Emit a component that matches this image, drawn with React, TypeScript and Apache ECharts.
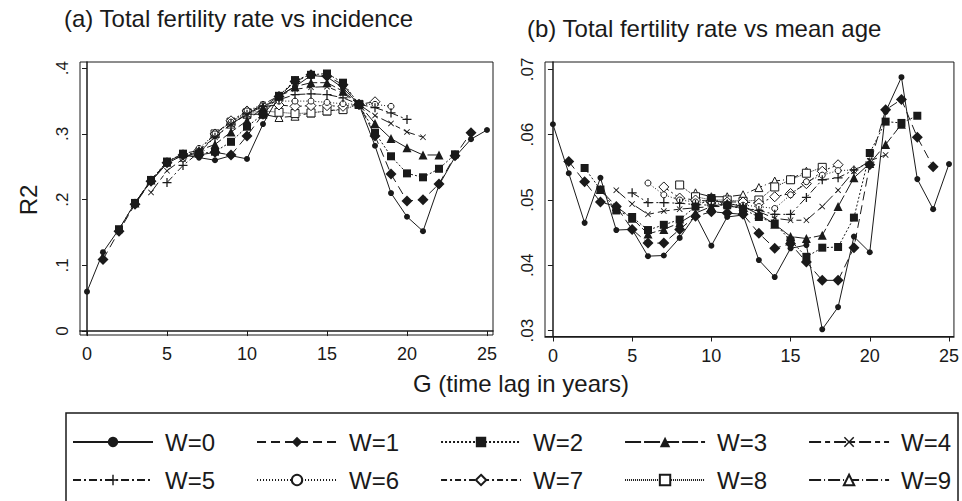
import React, { useEffect, useRef } from 'react';
import * as echarts from 'echarts';

// ---- data ----
const lags = [0, 1, 2, 3, 4, 5, 6, 7, 8, 9, 10, 11, 12, 13, 14, 15, 16, 17, 18, 19, 20, 21, 22, 23, 24, 25];
const windows = [0, 1, 2, 3, 4, 5, 6, 7, 8, 9];
const xTicks = [0, 5, 10, 15, 20, 25];
const incTicks = [0, 0.1, 0.2, 0.3, 0.4];
const ageTicks = [0.03, 0.04, 0.05, 0.06, 0.07];

// (a) Total fertility rate vs incidence; series W starts at lag W
const incW0 = [0.060, 0.120, 0.155, 0.195, 0.228, 0.255, 0.268, 0.264, 0.260, 0.267, 0.262, 0.315, 0.358, 0.372, 0.389, 0.387, 0.370, 0.345, 0.282, 0.210, 0.174, 0.152, 0.222, 0.265, 0.292, 0.306];
const incW1 = [0.109, 0.152, 0.193, 0.228, 0.256, 0.268, 0.268, 0.272, 0.268, 0.297, 0.330, 0.357, 0.380, 0.390, 0.388, 0.375, 0.345, 0.297, 0.239, 0.198, 0.200, 0.224, 0.267, 0.302];
const incW2 = [0.155, 0.195, 0.230, 0.258, 0.270, 0.270, 0.273, 0.288, 0.311, 0.330, 0.358, 0.382, 0.390, 0.392, 0.378, 0.345, 0.302, 0.266, 0.240, 0.234, 0.247, 0.269];
const incW3 = [0.195, 0.230, 0.257, 0.270, 0.275, 0.284, 0.303, 0.320, 0.340, 0.358, 0.372, 0.378, 0.378, 0.365, 0.345, 0.316, 0.293, 0.279, 0.268, 0.268];
const incW4 = [0.211, 0.244, 0.262, 0.275, 0.295, 0.315, 0.330, 0.345, 0.358, 0.368, 0.371, 0.372, 0.362, 0.345, 0.328, 0.316, 0.303, 0.295];
const incW5 = [0.226, 0.252, 0.272, 0.295, 0.315, 0.330, 0.342, 0.352, 0.360, 0.361, 0.360, 0.355, 0.345, 0.340, 0.332, 0.322];
const incW6 = [0.262, 0.278, 0.300, 0.318, 0.335, 0.345, 0.350, 0.350, 0.350, 0.348, 0.346, 0.345, 0.345, 0.342];
const incW7 = [0.275, 0.300, 0.320, 0.335, 0.342, 0.344, 0.342, 0.343, 0.343, 0.342, 0.345, 0.349];
const incW8 = [0.300, 0.318, 0.332, 0.335, 0.333, 0.331, 0.332, 0.335, 0.337, 0.345];
const incW9 = [0.315, 0.330, 0.330, 0.325, 0.327, 0.332, 0.335, 0.338];

// (b) Total fertility rate vs mean age; series W starts at lag W
const ageW0 = [0.0616, 0.0541, 0.0465, 0.0534, 0.0454, 0.0455, 0.0414, 0.0415, 0.0442, 0.0477, 0.0430, 0.0474, 0.0477, 0.0408, 0.0382, 0.0426, 0.0431, 0.0302, 0.0336, 0.0444, 0.0420, 0.0635, 0.0688, 0.0532, 0.0486, 0.0555];
const ageW1 = [0.0559, 0.0528, 0.0497, 0.0490, 0.0455, 0.0434, 0.0434, 0.0455, 0.0475, 0.0482, 0.0480, 0.0478, 0.0449, 0.0426, 0.0433, 0.0405, 0.0377, 0.0377, 0.0427, 0.0554, 0.0638, 0.0654, 0.0596, 0.0551];
const ageW2 = [0.0549, 0.0516, 0.0484, 0.0474, 0.0454, 0.0462, 0.0470, 0.0490, 0.0503, 0.0492, 0.0486, 0.0474, 0.0464, 0.0438, 0.0413, 0.0427, 0.0428, 0.0473, 0.0572, 0.0620, 0.0618, 0.0629];
const ageW3 = [0.0516, 0.0490, 0.0472, 0.0448, 0.0455, 0.0465, 0.0480, 0.0490, 0.0495, 0.0490, 0.0478, 0.0463, 0.0444, 0.0441, 0.0446, 0.0490, 0.0534, 0.0556, 0.0585, 0.0616];
const ageW4 = [0.0515, 0.0494, 0.0478, 0.0483, 0.0486, 0.0488, 0.0490, 0.0490, 0.0489, 0.0482, 0.0472, 0.0469, 0.0469, 0.0490, 0.0515, 0.0544, 0.0560, 0.0569];
const ageW5 = [0.0511, 0.0496, 0.0496, 0.0495, 0.0493, 0.0492, 0.0492, 0.0488, 0.0484, 0.0478, 0.0478, 0.0504, 0.0531, 0.0534, 0.0546, 0.0558];
const ageW6 = [0.0526, 0.0508, 0.0500, 0.0497, 0.0496, 0.0494, 0.0492, 0.0490, 0.0487, 0.0508, 0.0528, 0.0538, 0.0545, 0.0546];
const ageW7 = [0.0520, 0.0503, 0.0500, 0.0498, 0.0497, 0.0497, 0.0495, 0.0505, 0.0510, 0.0525, 0.0544, 0.0554];
const ageW8 = [0.0523, 0.0505, 0.0500, 0.0500, 0.0498, 0.0500, 0.0520, 0.0531, 0.0541, 0.0550];
const ageW9 = [0.0511, 0.0505, 0.0505, 0.0508, 0.0519, 0.0529, 0.0532, 0.0544];

const incSeries = [incW0, incW1, incW2, incW3, incW4, incW5, incW6, incW7, incW8, incW9];
const ageSeries = [ageW0, ageW1, ageW2, ageW3, ageW4, ageW5, ageW6, ageW7, ageW8, ageW9];

// ---- styles ----
const INK = '#1a1a1a';
const FONT = '"Liberation Sans", Arial, Helvetica, sans-serif';
const PLUS = 'path://M4.3,0H5.7V4.3H10V5.7H5.7V10H4.3V5.7H0V4.3H4.3Z';
const CROSS = 'path://M1,0L5,4L9,0L10,1L6,5L10,9L9,10L5,6L1,10L0,9L4,5L0,1Z';

type Sty = { symbol: string; size: number; hollow: boolean; dash: any };
const styles: Sty[] = [
  { symbol: 'circle', size: 6, hollow: false, dash: 'solid' },
  { symbol: 'diamond', size: 11, hollow: false, dash: [9, 5] },
  { symbol: 'rect', size: 8, hollow: false, dash: [2, 2] },
  { symbol: 'triangle', size: 9, hollow: false, dash: [16, 3] },
  { symbol: CROSS, size: 6, hollow: false, dash: [12, 4, 5, 4] },
  { symbol: PLUS, size: 9, hollow: false, dash: [8, 3, 2, 3] },
  { symbol: 'circle', size: 6, hollow: true, dash: [1, 2] },
  { symbol: 'diamond', size: 10, hollow: true, dash: [6, 3, 2, 3] },
  { symbol: 'rect', size: 8, hollow: true, dash: [1, 1] },
  { symbol: 'triangle', size: 8, hollow: true, dash: [12, 3, 1, 3] },
];

function makeSeries(values: number[][], axis: number) {
  return windows.map((w) => {
    const s = styles[w];
    return {
      type: 'line',
      name: `W=${w}`,
      xAxisIndex: axis,
      yAxisIndex: axis,
      data: values[w].map((v, i) => [lags[w + i], v]),
      symbol: s.symbol,
      symbolSize: s.size,
      showAllSymbol: true,
      lineStyle: { color: INK, width: 1, type: s.dash },
      itemStyle: s.hollow
        ? { color: '#ffffff', borderColor: INK, borderWidth: 1 }
        : { color: INK, borderColor: INK, borderWidth: 0 },
      z: 20 - w,
      emphasis: { disabled: true },
    };
  });
}

const axisLabelY = (v: number) => (v === 0 ? '0' : String(+v.toFixed(3)).replace(/^0/, ''));

function xAxisFor(grid: number, min: number, max: number) {
  return {
    type: 'value',
    gridIndex: grid,
    min,
    max,
    axisLine: { show: true, lineStyle: { color: INK, width: 1.5 } },
    axisTick: { show: true, customValues: xTicks, length: 5, lineStyle: { color: INK } },
    axisLabel: { customValues: xTicks, color: INK, fontSize: 18, fontFamily: FONT, margin: 10 },
    splitLine: { show: false },
  };
}

function yAxisFor(grid: number, min: number, max: number, ticks: number[]) {
  return {
    type: 'value',
    gridIndex: grid,
    min,
    max,
    axisLine: { show: true, lineStyle: { color: INK, width: 1.5 } },
    axisTick: { show: true, customValues: ticks, length: 5, lineStyle: { color: INK } },
    axisLabel: {
      customValues: ticks,
      rotate: 90,
      color: INK,
      fontSize: 17,
      fontFamily: FONT,
      margin: 9,
      formatter: axisLabelY,
    },
    splitLine: { show: false },
  };
}

const legendNames1 = windows.slice(0, 5).map((w) => `W=${w}`);
const legendNames2 = windows.slice(5).map((w) => `W=${w}`);

function legendRow(names: string[], top: number) {
  return {
    data: names,
    left: 72,
    top,
    width: 885,
    orient: 'horizontal',
    itemWidth: 80,
    itemHeight: 13,
    itemGap: 41,
    padding: 0,
    selectedMode: false,
    textStyle: { fontSize: 24, fontFamily: FONT, color: INK, padding: [0, 0, 0, 7] },
  };
}

export default function App() {
  const ref = useRef<HTMLDivElement>(null);
  useEffect(() => {
    if (!ref.current) return;
    const chart = echarts.init(ref.current, undefined, { renderer: 'svg' });
    chart.setOption({
      animation: false,
      backgroundColor: '#ffffff',
      title: [
        {
          text: '(a) Total fertility rate vs incidence',
          left: 64,
          top: 6,
          padding: 0,
          textStyle: { fontSize: 24, fontWeight: 'normal', fontFamily: FONT, color: INK },
        },
        {
          text: '(b) Total fertility rate vs mean age',
          left: 527,
          top: 16,
          padding: 0,
          textStyle: { fontSize: 24, fontWeight: 'normal', fontFamily: FONT, color: INK },
        },
      ],
      grid: [
        { left: 80, top: 62, width: 413, height: 273, show: true, borderColor: INK, borderWidth: 1, containLabel: false },
        { left: 545, top: 62, width: 413, height: 274.5, show: true, borderColor: INK, borderWidth: 1, containLabel: false },
      ],
      xAxis: [xAxisFor(0, -0.4375, 25.375), xAxisFor(1, -0.5, 25.3125)],
      yAxis: [yAxisFor(0, -0.006, 0.4095, incTicks), yAxisFor(1, 0.0291, 0.07113, ageTicks)],
      legend: [legendRow(legendNames1, 430), legendRow(legendNames2, 468)],
      graphic: [
        {
          type: 'text',
          x: 28,
          y: 200,
          rotation: Math.PI / 2,
          style: { text: 'R2', fontSize: 24, fontFamily: FONT, fill: INK, align: 'center', verticalAlign: 'middle' },
        },
        {
          type: 'text',
          x: 521,
          y: 383,
          style: { text: 'G (time lag in years)', fontSize: 24, fontFamily: FONT, fill: INK, align: 'center', verticalAlign: 'middle' },
        },
        {
          type: 'rect',
          shape: { x: 66, y: 413, width: 892, height: 100 },
          style: { fill: 'none', stroke: INK, lineWidth: 1.5 },
          z: -1,
        },
      ],
      series: [...makeSeries(incSeries, 0), ...makeSeries(ageSeries, 1)],
    });
    return () => chart.dispose();
  }, []);
  return <div ref={ref} style={{ position: 'fixed', left: 0, top: 0, width: 962, height: 501 }} />;
}
